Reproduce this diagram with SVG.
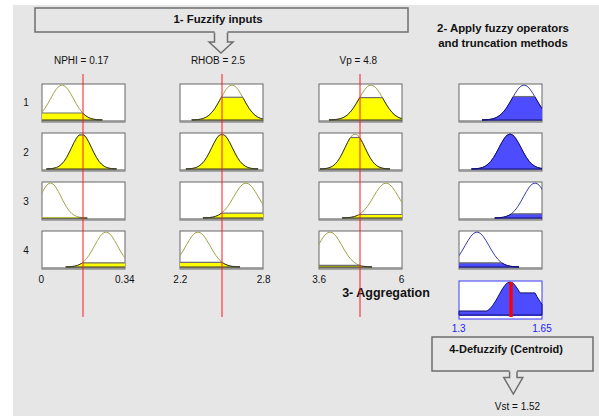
<svg xmlns="http://www.w3.org/2000/svg" xmlns:xlink="http://www.w3.org/1999/xlink" width="599" height="416" viewBox="0 0 599 416">
<style>
.bg{fill:#e6e6e6}
.frame{fill:#e6e6e6;stroke:#6e6e6e;stroke-width:1.5}
.box{fill:#fff;stroke:#666;stroke-width:1}
.base{stroke:#8a8a8a;stroke-width:1.5}
.mfi{fill:none;stroke:#a3a34d;stroke-width:1}
.ffi{fill:#ffff00;stroke:#333;stroke-width:1}
.mfo{fill:none;stroke:#3b3bb0;stroke-width:1}
.ffo{fill:#4d4dff;stroke:#101070;stroke-width:1}
.lvl{stroke:#6e6e6e;stroke-width:1.2}
.red{stroke:#ff1a1a;stroke-width:1}
text{font-family:"Liberation Sans",Arial,sans-serif;fill:#111}
.t{font-size:11.4px;font-weight:bold;text-anchor:middle}
.l{font-size:10px;text-anchor:middle}
.b{fill:#2020ff}
</style>
<defs>
<path id="gp" vector-effect="non-scaling-stroke" d="M-3.5,0 L-3.5,-0.0022 L-3.25,-0.0051 L-3,-0.0111 L-2.75,-0.0228 L-2.5,-0.0439 L-2.25,-0.0796 L-2,-0.1353 L-1.75,-0.2163 L-1.5,-0.3247 L-1.25,-0.4578 L-1,-0.6065 L-0.75,-0.7548 L-0.5,-0.8825 L-0.25,-0.9692 L0,-1 L0.25,-0.9692 L0.5,-0.8825 L0.75,-0.7548 L1,-0.6065 L1.25,-0.4578 L1.5,-0.3247 L1.75,-0.2163 L2,-0.1353 L2.25,-0.0796 L2.5,-0.0439 L2.75,-0.0228 L3,-0.0111 L3.25,-0.0051 L3.5,-0.0022 L3.5,0 Z"/>
<clipPath id="cb"><rect x="0" y="0" width="83" height="38"/></clipPath>
<clipPath id="k11"><rect x="0" y="29" width="83" height="9"/></clipPath>
<clipPath id="k21"><rect x="0" y="2.05" width="83" height="36"/></clipPath>
<clipPath id="k31"><rect x="0" y="35.4" width="83" height="3"/></clipPath>
<clipPath id="k41"><rect x="0" y="31.8" width="83" height="6.2"/></clipPath>
<clipPath id="k12"><rect x="0" y="13.25" width="83" height="25"/></clipPath>
<clipPath id="k22"><rect x="0" y="1.7" width="83" height="37"/></clipPath>
<clipPath id="k32"><rect x="0" y="31.1" width="83" height="7"/></clipPath>
<clipPath id="k42"><rect x="0" y="31.45" width="83" height="7"/></clipPath>
<clipPath id="k13"><rect x="0" y="13.6" width="83" height="25"/></clipPath>
<clipPath id="k23"><rect x="0" y="4.5" width="83" height="34"/></clipPath>
<clipPath id="k33"><rect x="0" y="32.5" width="83" height="6"/></clipPath>
<clipPath id="k43"><rect x="0" y="34.46" width="83" height="4"/></clipPath>
<clipPath id="k14"><rect x="0" y="12.55" width="83" height="26"/></clipPath>
<clipPath id="k24"><rect x="0" y="0" width="83" height="38"/></clipPath>
<clipPath id="k34"><rect x="0" y="31.8" width="83" height="7"/></clipPath>
<clipPath id="k44"><rect x="0" y="31.8" width="83" height="7"/></clipPath>
</defs>

<rect class="bg" x="13" y="5" width="586" height="411"/>

<g id="step1">
<rect class="frame" x="35" y="8" width="373" height="24"/>
<text class="t" x="218" y="23">1- Fuzzify inputs</text>
</g>
<g id="step2">
<text class="t" x="503" y="31.5">2- Apply fuzzy operators</text>
<text class="t" x="503" y="46.5">and truncation methods</text>
</g>

<g id="input-labels">
<text class="l" x="81.3" y="64">NPHI = 0.17</text>
<text class="l" x="218" y="64">RHOB = 2.5</text>
<text class="l" x="358.3" y="64">Vp = 4.8</text>
</g>
<g id="rule-labels">
<text class="l" x="26" y="106">1</text>
<text class="l" x="26" y="155.5">2</text>
<text class="l" x="26" y="205">3</text>
<text class="l" x="26" y="254">4</text>
</g>

<!-- Column 1: NPHI -->
<g id="nphi-1" transform="translate(42,84)">
<rect class="box" width="83" height="38"/>
<g clip-path="url(#cb)">
<line class="base" x1="0" y1="37" x2="83" y2="37"/>
<use xlink:href="#gp" class="mfi" transform="translate(20,36) scale(11.5,35)"/>
<g clip-path="url(#k11)"><use xlink:href="#gp" class="ffi" transform="translate(20,36) scale(11.5,35)"/></g>
<line class="lvl" x1="0" y1="29" x2="40.6" y2="29"/>
</g>
</g>
<g id="nphi-2" transform="translate(42,133)">
<rect class="box" width="83" height="38"/>
<g clip-path="url(#cb)">
<line class="base" x1="0" y1="37" x2="83" y2="37"/>
<use xlink:href="#gp" class="mfi" transform="translate(39.5,36) scale(10,35)"/>
<g clip-path="url(#k21)"><use xlink:href="#gp" class="ffi" transform="translate(39.5,36) scale(10,35)"/></g>
<line class="lvl" x1="37" y1="2.05" x2="42" y2="2.05"/>
</g>
</g>
<g id="nphi-3" transform="translate(42,182)">
<rect class="box" width="83" height="38"/>
<g clip-path="url(#cb)">
<line class="base" x1="0" y1="37" x2="83" y2="37"/>
<use xlink:href="#gp" class="mfi" transform="translate(8.5,36) scale(10.5,35)"/>
<g clip-path="url(#k31)"><use xlink:href="#gp" class="ffi" transform="translate(8.5,36) scale(10.5,35)"/></g>
</g>
</g>
<g id="nphi-4" transform="translate(42,231)">
<rect class="box" width="83" height="38"/>
<g clip-path="url(#cb)">
<line class="base" x1="0" y1="37" x2="83" y2="37"/>
<use xlink:href="#gp" class="mfi" transform="translate(64,36) scale(11.5,35)"/>
<g clip-path="url(#k41)"><use xlink:href="#gp" class="ffi" transform="translate(64,36) scale(11.5,35)"/></g>
<line class="lvl" x1="40.3" y1="31.8" x2="83" y2="31.8"/>
</g>
</g>

<!-- Column 2: RHOB -->
<g id="rhob-1" transform="translate(180,84)">
<rect class="box" width="83" height="38"/>
<g clip-path="url(#cb)">
<line class="base" x1="0" y1="37" x2="83" y2="37"/>
<use xlink:href="#gp" class="mfi" transform="translate(52,36) scale(11.5,35)"/>
<g clip-path="url(#k12)"><use xlink:href="#gp" class="ffi" transform="translate(52,36) scale(11.5,35)"/></g>
<line class="lvl" x1="41.3" y1="13.25" x2="62.7" y2="13.25"/>
</g>
</g>
<g id="rhob-2" transform="translate(180,133)">
<rect class="box" width="83" height="38"/>
<g clip-path="url(#cb)">
<line class="base" x1="0" y1="37" x2="83" y2="37"/>
<use xlink:href="#gp" class="mfi" transform="translate(42,36) scale(10.3,35)"/>
<g clip-path="url(#k22)"><use xlink:href="#gp" class="ffi" transform="translate(42,36) scale(10.3,35)"/></g>
<line class="lvl" x1="39.9" y1="1.7" x2="44.1" y2="1.7"/>
</g>
</g>
<g id="rhob-3" transform="translate(180,182)">
<rect class="box" width="83" height="38"/>
<g clip-path="url(#cb)">
<line class="base" x1="0" y1="37" x2="83" y2="37"/>
<use xlink:href="#gp" class="mfi" transform="translate(66,36) scale(12.3,35)"/>
<g clip-path="url(#k32)"><use xlink:href="#gp" class="ffi" transform="translate(66,36) scale(12.3,35)"/></g>
<line class="lvl" x1="41.6" y1="31.1" x2="83" y2="31.1"/>
</g>
</g>
<g id="rhob-4" transform="translate(180,231)">
<rect class="box" width="83" height="38"/>
<g clip-path="url(#cb)">
<line class="base" x1="0" y1="37" x2="83" y2="37"/>
<use xlink:href="#gp" class="mfi" transform="translate(18,36) scale(12,35)"/>
<g clip-path="url(#k42)"><use xlink:href="#gp" class="ffi" transform="translate(18,36) scale(12,35)"/></g>
<line class="lvl" x1="0" y1="31.45" x2="42.2" y2="31.45"/>
</g>
</g>

<!-- Column 3: Vp -->
<g id="vp-1" transform="translate(319,84)">
<rect class="box" width="83" height="38"/>
<g clip-path="url(#cb)">
<line class="base" x1="0" y1="37" x2="83" y2="37"/>
<use xlink:href="#gp" class="mfi" transform="translate(52,36) scale(12,35)"/>
<g clip-path="url(#k13)"><use xlink:href="#gp" class="ffi" transform="translate(52,36) scale(12,35)"/></g>
<line class="lvl" x1="40.7" y1="13.6" x2="63.3" y2="13.6"/>
</g>
</g>
<g id="vp-2" transform="translate(319,133)">
<rect class="box" width="83" height="38"/>
<g clip-path="url(#cb)">
<line class="base" x1="0" y1="37" x2="83" y2="37"/>
<use xlink:href="#gp" class="mfi" transform="translate(36,36) scale(10,35)"/>
<g clip-path="url(#k23)"><use xlink:href="#gp" class="ffi" transform="translate(36,36) scale(10,35)"/></g>
<line class="lvl" x1="31.4" y1="4.5" x2="40.6" y2="4.5"/>
</g>
</g>
<g id="vp-3" transform="translate(319,182)">
<rect class="box" width="83" height="38"/>
<g clip-path="url(#cb)">
<line class="base" x1="0" y1="37" x2="83" y2="37"/>
<use xlink:href="#gp" class="mfi" transform="translate(67,36) scale(12.5,35)"/>
<g clip-path="url(#k33)"><use xlink:href="#gp" class="ffi" transform="translate(67,36) scale(12.5,35)"/></g>
<line class="lvl" x1="40.2" y1="32.5" x2="83" y2="32.5"/>
</g>
</g>
<g id="vp-4" transform="translate(319,231)">
<rect class="box" width="83" height="38"/>
<g clip-path="url(#cb)">
<line class="base" x1="0" y1="37" x2="83" y2="37"/>
<use xlink:href="#gp" class="mfi" transform="translate(11,36) scale(12,35)"/>
<g clip-path="url(#k43)"><use xlink:href="#gp" class="ffi" transform="translate(11,36) scale(12,35)"/></g>
<line class="lvl" x1="0" y1="34.46" x2="41" y2="34.46"/>
</g>
</g>

<!-- Column 4: outputs -->
<g id="out-1" transform="translate(459,84)">
<rect class="box" width="83" height="38"/>
<g clip-path="url(#cb)">
<line class="base" x1="0" y1="37" x2="83" y2="37"/>
<use xlink:href="#gp" class="mfo" transform="translate(65,36) scale(12,35)"/>
<g clip-path="url(#k14)"><use xlink:href="#gp" class="ffo" transform="translate(65,36) scale(12,35)"/></g>
<line class="lvl" x1="54.3" y1="12.55" x2="75.7" y2="12.55"/>
</g>
</g>
<g id="out-2" transform="translate(459,133)">
<rect class="box" width="83" height="38"/>
<g clip-path="url(#cb)">
<line class="base" x1="0" y1="37" x2="83" y2="37"/>
<use xlink:href="#gp" class="mfo" transform="translate(51,36) scale(11,35)"/>
<g clip-path="url(#k24)"><use xlink:href="#gp" class="ffo" transform="translate(51,36) scale(11,35)"/></g>
</g>
</g>
<g id="out-3" transform="translate(459,182)">
<rect class="box" width="83" height="38"/>
<g clip-path="url(#cb)">
<line class="base" x1="0" y1="37" x2="83" y2="37"/>
<use xlink:href="#gp" class="mfo" transform="translate(76,36) scale(11.5,35)"/>
<g clip-path="url(#k34)"><use xlink:href="#gp" class="ffo" transform="translate(76,36) scale(11.5,35)"/></g>
<line class="lvl" x1="52.3" y1="31.8" x2="83" y2="31.8"/>
</g>
</g>
<g id="out-4" transform="translate(459,231)">
<rect class="box" width="83" height="38"/>
<g clip-path="url(#cb)">
<line class="base" x1="0" y1="37" x2="83" y2="37"/>
<use xlink:href="#gp" class="mfo" transform="translate(18,36) scale(12,35)"/>
<g clip-path="url(#k44)"><use xlink:href="#gp" class="ffo" transform="translate(18,36) scale(12,35)"/></g>
<line class="lvl" x1="0" y1="31.8" x2="42.7" y2="31.8"/>
</g>
</g>

<g id="axis-labels">
<text class="l" x="41.2" y="283.3">0</text>
<text class="l" x="124.8" y="283.3">0.34</text>
<text class="l" x="180.3" y="283.3">2.2</text>
<text class="l" x="263.7" y="283.3">2.8</text>
<text class="l" x="319.2" y="283.3">3.6</text>
<text class="l" x="401.5" y="283.3">6</text>
</g>

<g id="step3">
<text x="386" y="297" style="font-size:12.5px;font-weight:bold;text-anchor:middle">3- Aggregation</text>
</g>

<g id="aggregate">
<rect x="459" y="281" width="83" height="38" fill="#fff" stroke="#3a3aff" stroke-width="1"/>
<line x1="459" y1="315.5" x2="542" y2="315.5" stroke="#4d4dff" stroke-width="1"/>
<path class="ffo" d="M459,315 L459,311 L487,311 L490,308.7 L492.5,305.7 L495,302 L497.5,297.7 L500,293.2 L502.5,288.8 L505,285.2 L507.5,282.8 L510,282 L512.5,282.8 L515,285.2 L517.5,288.8 L520,292.9 L535,292.9 L537,296.7 L540,301.4 L542,304.3 L542,315 Z"/>
<line x1="511" y1="282" x2="511" y2="317" stroke="#ff0000" stroke-width="3.4"/>
<text class="l b" x="458.7" y="332.3">1.3</text>
<text class="l b" x="542" y="332.3">1.65</text>
</g>

<g id="step4">
<rect class="frame" x="432" y="337" width="161" height="34"/>
<text x="506" y="353" style="font-size:11px;font-weight:bold;text-anchor:middle">4-Defuzzify (Centroid)</text>
</g>
<g id="result">
<text class="l" x="517.5" y="410">Vst = 1.52</text>
</g>

<g id="connectors">
<path d="M214.5,31 L214.5,42 L209,42 L221,53 L233,42 L227.5,42 L227.5,31 Z" fill="#e6e6e6"/>
<path d="M214.5,32.5 V42 H209 L221,53 L233,42 H227.5 V32.5" fill="none" stroke="#6e6e6e" stroke-width="1.5"/>
<path d="M509.6,370 L509.6,377.5 L503.8,377.5 L513.3,394 L522.8,377.5 L517,377.5 L517,370 Z" fill="#e6e6e6"/>
<path d="M509.6,371.5 V377.5 H503.8 L513.3,394 L522.8,377.5 H517 V371.5" fill="none" stroke="#6e6e6e" stroke-width="1.5"/>
</g>

<g id="input-values">
<line class="red" x1="83" y1="74" x2="83" y2="317"/>
<line class="red" x1="222" y1="74" x2="222" y2="317"/>
<line class="red" x1="360" y1="74" x2="360" y2="317"/>
</g>
</svg>
